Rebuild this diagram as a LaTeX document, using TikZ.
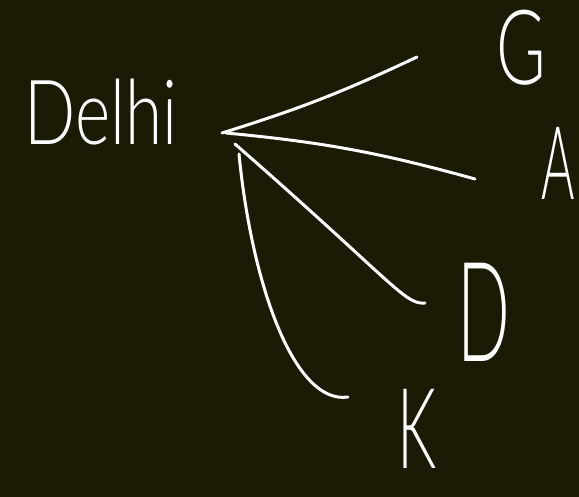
\documentclass[tikz,border=0pt]{standalone}
\usepackage{fontspec}
\newfontfamily\handfont{Lato Light}
\definecolor{boardbg}{RGB}{27,26,5}
\definecolor{chalk}{RGB}{255,255,255}

\begin{document}
\begin{tikzpicture}[x=1pt, y=1pt,
  stroke/.style={draw=chalk, line width=3pt, line cap=round, line join=round},
  city/.style={text=chalk, inner sep=0pt, anchor=base, font=\handfont\fontsize{#1}{#1}\selectfont}
]
\fill[boardbg] (0,0) rectangle (579,497);
\useasboundingbox (0,0) rectangle (579,497);

% source city and the four places
\node[city=90, anchor=base west] (delhi) at (24,352) {\scalebox{.75}[1]{Delhi}};
\node[city=104] (g) at (521,412) {\scalebox{.65}[1]{G}};
\node[city=102] (a) at (558,297) {\scalebox{.5}[1]{A}};
\node[city=139] (d) at (484,135) {\scalebox{.5}[1]{D}};
\node[city=112] (k) at (417,28) {\scalebox{.55}[1]{K}};

% where the strokes start and stop
\coordinate (hub) at (222,364);
\coordinate (gEnd) at (417,440);
\coordinate (aEnd) at (475,318);
\coordinate (dEnd) at (425,194);
\coordinate (kEnd) at (348,100);

\draw[stroke] (hub) to[bend right=4] (gEnd);
\draw[stroke] ([shift={(4,0)}]hub) to[bend left=5] (aEnd);
\draw[stroke] ([shift={(13,-11)}]hub) .. controls (395,213) and (405,192) .. (dEnd);
\draw[stroke] ([shift={(17,-21)}]hub) .. controls (252,210) and (295,92) .. (kEnd);
\end{tikzpicture}
\end{document}
